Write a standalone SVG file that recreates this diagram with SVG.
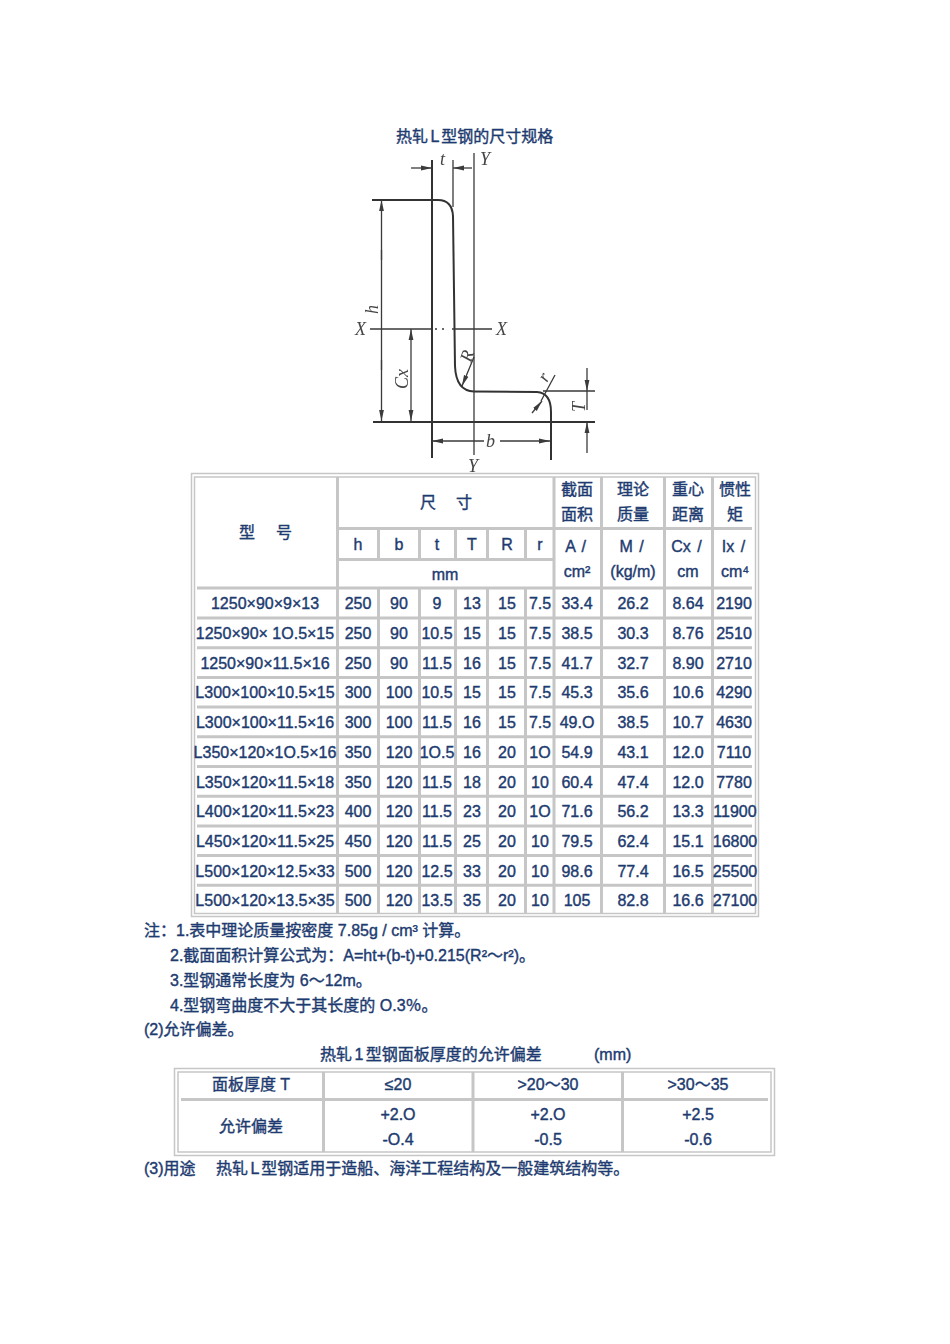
<svg xmlns="http://www.w3.org/2000/svg" width="950" height="1344" viewBox="0 0 950 1344">
<style>
text{font-family:"Liberation Sans","Noto Sans CJK SC",sans-serif;font-size:16px;fill:#1d3b70;stroke:#1d3b70;stroke-width:.4}
.c{text-anchor:middle}
.w{word-spacing:2px}
.n{word-spacing:-2px}
.g{stroke:#c6c6c6;stroke-width:3;fill:none}
.f{stroke:#c6c6c6;stroke-width:1.5;fill:none}
.d{stroke:#3a3a3a;stroke-width:1.3;fill:none}
.p{stroke:#333;stroke-width:2;fill:none}
.a{marker-end:url(#ah)}
text.l{font-family:"Liberation Serif",serif;font-style:italic;font-size:18px;fill:#444;stroke:none}
</style>
<defs>
<marker id="ah" markerWidth="12" markerHeight="6" refX="11" refY="3" orient="auto" markerUnits="userSpaceOnUse"><path d="M0 .6L11 3L0 5.400z" fill="#3a3a3a"/></marker>
<filter id="soft" x="-5%" y="-5%" width="110%" height="110%"><feGaussianBlur stdDeviation="0.5"/></filter>
</defs>
<rect width="950" height="1344" fill="#fff"/>
<text id="title" class="n" x="396" y="142">热轧 L 型钢的尺寸规格</text>

<g id="drawing" filter="url(#soft)">
<path class="p" d="M432 160V458M372 200H438Q452 200 453 216L455 366Q456 391 474 391.500L537 392Q551 393 551 412V421M373 422H595M551 421V460"/>
<path class="d" d="M453 160V207M474 153V455M543 391H595M370 329H431M435 329H437M442 329H444M452 329H492"/>
<path class="d a" d="M381.500 260V200"/><path class="d a" d="M381.500 360V421"/><path class="d" d="M381.500 250V370"/>
<path class="d a" d="M411 375V329"/><path class="d a" d="M411 375V421"/>
<path class="d a" d="M411 168H432"/><path class="d a" d="M472 168H453"/>
<path class="d a" d="M484 441H432"/><path class="d a" d="M500 441H550"/>
<path class="d a" d="M587 368V391"/><path class="d a" d="M587 453V422"/><path class="d" d="M587 391V410"/>
<path class="d a" d="M474 357L462 386"/>
<path class="d" d="M555 375L541 401"/><path class="d a" d="M532 413L542 401"/>
<text class="l" x="440" y="165">t</text>
<text class="l" x="480" y="165">Y</text>
<text class="l" x="355" y="335">X</text>
<text class="l" x="496" y="335">X</text>
<text class="l" transform="translate(378 314) rotate(-90)">h</text>
<text class="l" transform="translate(408 389) rotate(-90)">Cx</text>
<text class="l" transform="translate(471 363) rotate(-72)">R</text>
<text class="l" transform="translate(547 383) rotate(-60)">r</text>
<text class="l" transform="translate(585 412) rotate(-90)">T</text>
<text class="l" x="486" y="447">b</text>
<text class="l" x="468" y="472">Y</text>
</g>

<g id="table1-grid">
<rect class="f" x="191.500" y="473.500" width="567" height="443"/>
<rect class="f" x="194.500" y="477" width="561" height="436.500"/>
<path class="g" d="M337.500 477V914M554 477V589M601.500 477V914M664.500 477V914M712.500 477V914"/>
<path class="g" d="M378.500 529V559M419.500 529V559M455.500 529V559M487.500 529V559M525.500 529V559"/>
<path class="g" d="M378.500 588V914M419.500 588V914M455.500 588V914M487.500 588V914M525.500 588V914M554 588V914"/>
<path class="g" d="M337 528.500H752M337 559.500H554M197 588H752M197 618H752M197 647.700H752M197 677.400H752M197 707.100H752M197 736.800H752M197 766.500H752M197 796.200H752M197 825.900H752M197 855.600H752M197 885.300H752"/>
</g>

<g id="table1-head">
<text class="c" x="247" y="538">型</text><text class="c" x="284" y="538">号</text>
<text class="c" x="428" y="508">尺</text><text class="c" x="464" y="508">寸</text>
<text class="c" x="358" y="550">h</text><text class="c" x="399" y="550">b</text><text class="c" x="437" y="550">t</text><text class="c" x="472" y="550">T</text><text class="c" x="507" y="550">R</text><text class="c" x="540" y="550">r</text>
<text class="c" x="445" y="580">mm</text>
<text class="c" x="577" y="495">截面</text><text class="c" x="577" y="520">面积</text>
<text class="c" x="633" y="495">理论</text><text class="c" x="633" y="520">质量</text>
<text class="c" x="688" y="495">重心</text><text class="c" x="688" y="520">距离</text>
<text class="c" x="735" y="495">惯性</text><text class="c" x="735" y="520">矩</text>
<text class="c w" x="575.500" y="552">A /</text><text class="c" x="577" y="577">cm²</text>
<text class="c w" x="631.500" y="552">M /</text><text class="c" x="633" y="577">(kg/m)</text>
<text class="c w" x="686.500" y="552">Cx /</text><text class="c" x="688" y="577">cm</text>
<text class="c w" x="733.500" y="552">Ix /</text><text class="c" x="735" y="577">cm⁴</text>
</g>

<g id="table1-rows">
<g id="row1"><text class="c" x="265" y="609">1250×90×9×13</text><text class="c" x="358" y="609">250</text><text class="c" x="399" y="609">90</text><text class="c" x="437" y="609">9</text><text class="c" x="472" y="609">13</text><text class="c" x="507" y="609">15</text><text class="c" x="540" y="609">7.5</text><text class="c" x="577" y="609">33.4</text><text class="c" x="633" y="609">26.2</text><text class="c" x="688" y="609">8.64</text><text class="c" x="734" y="609">2190</text></g>
<g id="row2"><text class="c" x="265" y="639">1250×90× 1O.5×15</text><text class="c" x="358" y="639">250</text><text class="c" x="399" y="639">90</text><text class="c" x="437" y="639">10.5</text><text class="c" x="472" y="639">15</text><text class="c" x="507" y="639">15</text><text class="c" x="540" y="639">7.5</text><text class="c" x="577" y="639">38.5</text><text class="c" x="633" y="639">30.3</text><text class="c" x="688" y="639">8.76</text><text class="c" x="734" y="639">2510</text></g>
<g id="row3"><text class="c" x="265" y="669">1250×90×11.5×16</text><text class="c" x="358" y="669">250</text><text class="c" x="399" y="669">90</text><text class="c" x="437" y="669">11.5</text><text class="c" x="472" y="669">16</text><text class="c" x="507" y="669">15</text><text class="c" x="540" y="669">7.5</text><text class="c" x="577" y="669">41.7</text><text class="c" x="633" y="669">32.7</text><text class="c" x="688" y="669">8.90</text><text class="c" x="734" y="669">2710</text></g>
<g id="row4"><text class="c" x="265" y="698">L300×100×10.5×15</text><text class="c" x="358" y="698">300</text><text class="c" x="399" y="698">100</text><text class="c" x="437" y="698">10.5</text><text class="c" x="472" y="698">15</text><text class="c" x="507" y="698">15</text><text class="c" x="540" y="698">7.5</text><text class="c" x="577" y="698">45.3</text><text class="c" x="633" y="698">35.6</text><text class="c" x="688" y="698">10.6</text><text class="c" x="734" y="698">4290</text></g>
<g id="row5"><text class="c" x="265" y="728">L300×100×11.5×16</text><text class="c" x="358" y="728">300</text><text class="c" x="399" y="728">100</text><text class="c" x="437" y="728">11.5</text><text class="c" x="472" y="728">16</text><text class="c" x="507" y="728">15</text><text class="c" x="540" y="728">7.5</text><text class="c" x="577" y="728">49.O</text><text class="c" x="633" y="728">38.5</text><text class="c" x="688" y="728">10.7</text><text class="c" x="734" y="728">4630</text></g>
<g id="row6"><text class="c" x="265" y="758">L350×120×1O.5×16</text><text class="c" x="358" y="758">350</text><text class="c" x="399" y="758">120</text><text class="c" x="437" y="758">1O.5</text><text class="c" x="472" y="758">16</text><text class="c" x="507" y="758">20</text><text class="c" x="540" y="758">1O</text><text class="c" x="577" y="758">54.9</text><text class="c" x="633" y="758">43.1</text><text class="c" x="688" y="758">12.0</text><text class="c" x="734" y="758">7110</text></g>
<g id="row7"><text class="c" x="265" y="788">L350×120×11.5×18</text><text class="c" x="358" y="788">350</text><text class="c" x="399" y="788">120</text><text class="c" x="437" y="788">11.5</text><text class="c" x="472" y="788">18</text><text class="c" x="507" y="788">20</text><text class="c" x="540" y="788">10</text><text class="c" x="577" y="788">60.4</text><text class="c" x="633" y="788">47.4</text><text class="c" x="688" y="788">12.0</text><text class="c" x="734" y="788">7780</text></g>
<g id="row8"><text class="c" x="265" y="817">L400×120×11.5×23</text><text class="c" x="358" y="817">400</text><text class="c" x="399" y="817">120</text><text class="c" x="437" y="817">11.5</text><text class="c" x="472" y="817">23</text><text class="c" x="507" y="817">20</text><text class="c" x="540" y="817">1O</text><text class="c" x="577" y="817">71.6</text><text class="c" x="633" y="817">56.2</text><text class="c" x="688" y="817">13.3</text><text class="c" x="735" y="817">11900</text></g>
<g id="row9"><text class="c" x="265" y="847">L450×120×11.5×25</text><text class="c" x="358" y="847">450</text><text class="c" x="399" y="847">120</text><text class="c" x="437" y="847">11.5</text><text class="c" x="472" y="847">25</text><text class="c" x="507" y="847">20</text><text class="c" x="540" y="847">10</text><text class="c" x="577" y="847">79.5</text><text class="c" x="633" y="847">62.4</text><text class="c" x="688" y="847">15.1</text><text class="c" x="735" y="847">16800</text></g>
<g id="row10"><text class="c" x="265" y="877">L500×120×12.5×33</text><text class="c" x="358" y="877">500</text><text class="c" x="399" y="877">120</text><text class="c" x="437" y="877">12.5</text><text class="c" x="472" y="877">33</text><text class="c" x="507" y="877">20</text><text class="c" x="540" y="877">10</text><text class="c" x="577" y="877">98.6</text><text class="c" x="633" y="877">77.4</text><text class="c" x="688" y="877">16.5</text><text class="c" x="735" y="877">25500</text></g>
<g id="row11"><text class="c" x="265" y="906">L500×120×13.5×35</text><text class="c" x="358" y="906">500</text><text class="c" x="399" y="906">120</text><text class="c" x="437" y="906">13.5</text><text class="c" x="472" y="906">35</text><text class="c" x="507" y="906">20</text><text class="c" x="540" y="906">10</text><text class="c" x="577" y="906">105</text><text class="c" x="633" y="906">82.8</text><text class="c" x="688" y="906">16.6</text><text class="c" x="735" y="906">27100</text></g>
</g>

<g id="notes">
<text x="144" y="936">注：1.表中理论质量按密度 7.85g / cm³ 计算。</text>
<text x="170" y="961">2.截面面积计算公式为：A=ht+(b-t)+0.215(R²～r²)。</text>
<text x="170" y="986">3.型钢通常长度为 6～12m。</text>
<text x="170" y="1011">4.型钢弯曲度不大于其长度的 O.3％。</text>
<text x="144" y="1035">(2)允许偏差。</text>
<text class="n" x="320" y="1060">热轧 1 型钢面板厚度的允许偏差</text>
<text x="594" y="1060">(mm)</text>
</g>

<g id="table2-grid">
<rect class="f" x="174.500" y="1068.500" width="600" height="87"/>
<rect class="f" x="178" y="1072" width="593" height="80"/>
<path class="g" d="M323.500 1072V1152M473 1072V1152M622.500 1072V1152M181 1099.500H768"/>
</g>

<g id="table2-text">
<text class="c" x="251" y="1090">面板厚度 T</text><text class="c" x="398" y="1090">≤20</text><text class="c" x="548" y="1090">&gt;20～30</text><text class="c" x="698" y="1090">&gt;30～35</text>
<text class="c" x="251" y="1132">允许偏差</text>
<text class="c" x="398" y="1120">+2.O</text><text class="c" x="548" y="1120">+2.O</text><text class="c" x="698" y="1120">+2.5</text>
<text class="c" x="398" y="1145">-O.4</text><text class="c" x="548" y="1145">-0.5</text><text class="c" x="698" y="1145">-0.6</text>
</g>

<g id="usage">
<text x="144" y="1174">(3)用途</text>
<text class="n" x="216" y="1174">热轧 L 型钢适用于造船、海洋工程结构及一般建筑结构等。</text>
</g>
</svg>
